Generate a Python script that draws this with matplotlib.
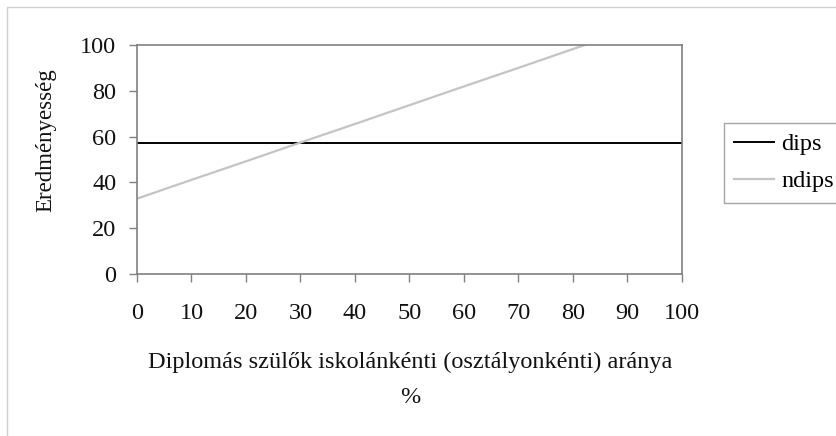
import matplotlib
matplotlib.use('Agg')
import matplotlib.pyplot as plt
from matplotlib.patches import Rectangle

plt.rcParams['font.family'] = ['Liberation Serif', 'DejaVu Serif']

# data
x_vals = [0, 10, 20, 30, 40, 50, 60, 70, 80, 90, 100]
dips = [57, 57, 57, 57, 57, 57, 57, 57, 57, 57, 57]
ndips = [32.9, 41.1, 49.2, 57.4, 65.5, 73.7, 81.9, 90.0, 98.2, 106.3, 114.5]
x_ticks = [0, 10, 20, 30, 40, 50, 60, 70, 80, 90, 100]
y_ticks = [0, 20, 40, 60, 80, 100]

W, H = 836, 436
fig = plt.figure(figsize=(W / 100, H / 100), dpi=100)
fig.patch.set_facecolor('white')

# outer chart frame (clipped at right and bottom)
fig.patches.append(Rectangle((7 / W, -0.1), 1.2, 1 - 7 / H + 0.1, transform=fig.transFigure,
                             fill=False, edgecolor='#d0d0d0', linewidth=1.0, clip_on=False))

ax = fig.add_axes([137 / W, 1 - 274 / H, (681.7 - 137) / W, (274 - 45) / H])
ax.plot(x_vals, dips, color='black', linewidth=1.4, label='dips')
ax.plot(x_vals, ndips, color='#c4c4c4', linewidth=1.6, label='ndips')

ax.set_xlim(0, 100)
ax.set_ylim(0, 100)
ax.set_xticks(x_ticks)
ax.set_yticks(y_ticks)
for s in ax.spines.values():
    s.set_color('#808080')
    s.set_linewidth(1.2)
ax.tick_params(axis='both', direction='out', length=6, width=1, color='#808080',
               labelsize=17.5, labelcolor='#111111')
ax.tick_params(axis='y', pad=9)
ax.tick_params(axis='x', pad=15)

fig.text(410 / W, 1 - 362 / H, 'Diplomás szülők iskolánkénti (osztályonkénti) aránya',
         ha='center', va='center', fontsize=17.5, color='#111111')
fig.text(410 / W, 1 - 397 / H, '%', ha='center', va='center', fontsize=17.5, color='#111111')
fig.text(46 / W, 1 - 140 / H, 'Eredményesség', ha='center', va='center', rotation=90,
         fontsize=16.5, color='#111111')

leg = ax.legend(loc='upper left', bbox_to_anchor=(724 / W, 1 - 123 / H),
                bbox_transform=fig.transFigure, fontsize=17.5, frameon=True, fancybox=False,
                handlelength=1.65, handletextpad=0.3, borderpad=0.42, labelspacing=0.62,
                borderaxespad=0)
leg.get_frame().set_edgecolor('#909090')
leg.get_frame().set_linewidth(1.0)

fig.savefig('out.png', dpi=100, facecolor='white')
